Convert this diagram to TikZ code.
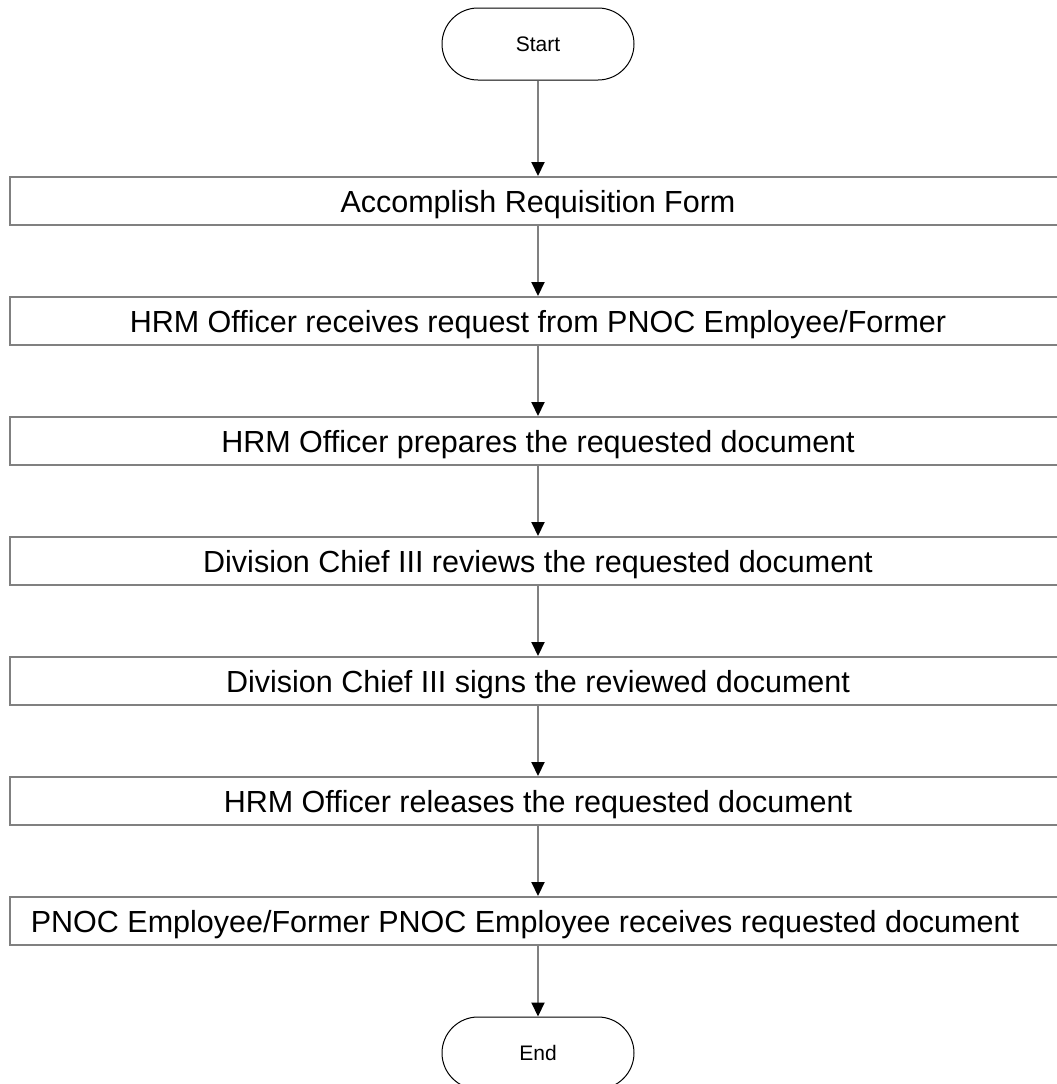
\documentclass[tikz,border=0pt]{standalone}
\usepackage{fontspec}
\setmainfont{Liberation Sans}
\usetikzlibrary{arrows.meta}
\definecolor{linegray}{RGB}{128,128,128}
\begin{document}
\begin{tikzpicture}[x=1pt,y=-1pt,
  stepbox/.style={draw=linegray, line width=2pt, fill=white, minimum width=1056pt,
    minimum height=48pt, inner sep=0pt, text depth=0pt, font=\fontsize{30.5}{36}\selectfont},
  steptext/.style={inner sep=0pt, text depth=0pt, font=\fontsize{30.5}{36}\selectfont},
  term/.style={draw=black, line width=1pt, fill=white, rounded corners=36pt,
    minimum width=192pt, minimum height=72pt, inner sep=0pt, text depth=0pt, font=\fontsize{21}{25}\selectfont},
  flow/.style={draw=linegray, line width=2pt, -{Triangle[width=13pt,length=14pt,color=black]}}]
\useasboundingbox (0,0) rectangle (1057,1084);
\clip (0,0) rectangle (1057,1084);
\node[term] (start) at (538,44) {Start};
\node[stepbox] (b1) at (538,201) {Accomplish Requisition Form};
\node[stepbox] (b2) at (538,321) {HRM Officer receives request from PNOC Employee/Former};
\node[stepbox] (b3) at (538,441) {HRM Officer prepares the requested document};
\node[stepbox] (b4) at (538,561) {Division Chief III reviews the requested document};
\node[stepbox] (b5) at (538,681) {Division Chief III signs the reviewed document};
\node[stepbox] (b6) at (538,801) {HRM Officer releases the requested document};
\node[stepbox] (b7) at (538,921) {};
\node[steptext] (t7) at (525,921) {PNOC Employee/Former PNOC Employee receives requested document};
\node[term] (end) at (538,1053) {End};
\draw[flow] (start) -- (b1);
\draw[flow] (b1) -- (b2);
\draw[flow] (b2) -- (b3);
\draw[flow] (b3) -- (b4);
\draw[flow] (b4) -- (b5);
\draw[flow] (b5) -- (b6);
\draw[flow] (b6) -- (b7);
\draw[flow] (b7) -- (end);
\end{tikzpicture}
\end{document}
